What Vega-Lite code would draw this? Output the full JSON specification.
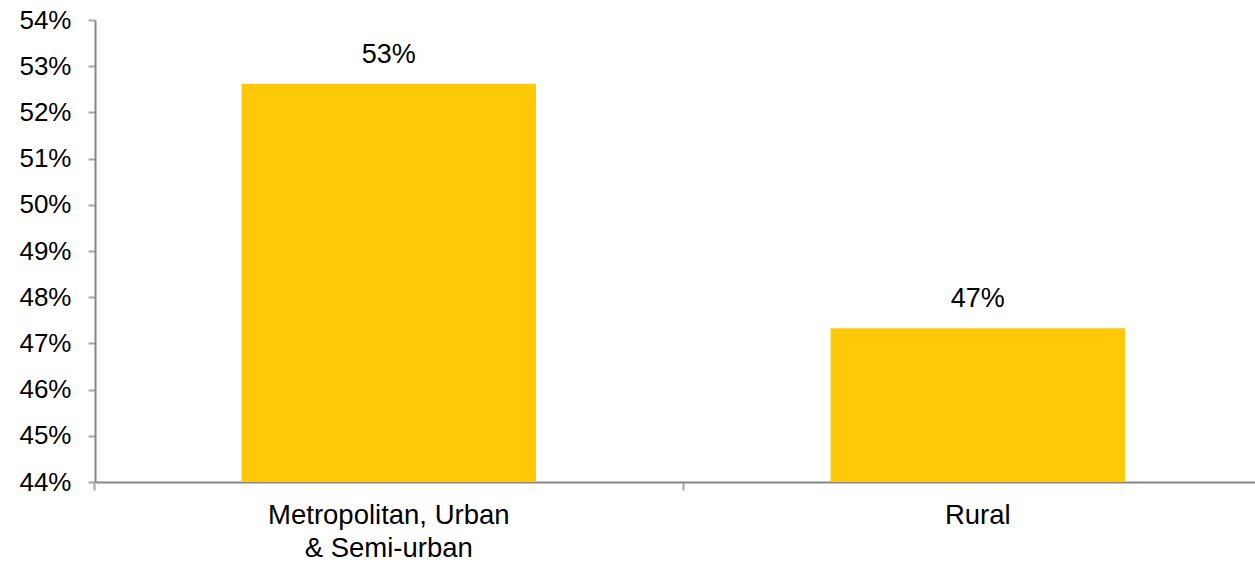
{
  "$schema": "https://vega.github.io/schema/vega-lite/v6.json",
  "width": 1160,
  "height": 462,
  "autosize": {"type": "none"},
  "padding": {"left": 95, "top": 20, "right": 0, "bottom": 80},
  "background": "white",
  "config": {
    "view": {"stroke": null},
    "font": "Liberation Sans"
  },
  "data": {
    "values": [
      {"area": "Metropolitan, Urban & Semi-urban", "share": 0.5262},
      {"area": "Rural", "share": 0.4733}
    ]
  },
  "encoding": {
    "x": {
      "field": "area",
      "type": "nominal",
      "sort": null,
      "scale": {"paddingInner": 0.5, "paddingOuter": 0.2347, "align": 0.53},
      "axis": {
        "title": null,
        "labelAngle": 0,
        "bandPosition": -0.5,
        "tickSize": 8,
        "tickColor": "#A6A6A6",
        "tickWidth": 2,
        "domainColor": "#868686",
        "domainWidth": 2,
        "labelFontSize": 27.5,
        "labelColor": "#000000",
        "labelPadding": 11,
        "labelLimit": 0,
        "labelLineHeight": 33,
        "labelExpr": "datum.value == 'Metropolitan, Urban & Semi-urban' ? ['Metropolitan, Urban', '& Semi-urban'] : datum.value"
      }
    },
    "y": {
      "field": "share",
      "type": "quantitative",
      "scale": {"domain": [0.44, 0.54], "nice": false, "zero": false},
      "axis": {
        "title": null,
        "values": [0.44, 0.45, 0.46, 0.47, 0.48, 0.49, 0.5, 0.51, 0.52, 0.53, 0.54],
        "format": ".0%",
        "grid": false,
        "tickSize": 7,
        "tickColor": "#A6A6A6",
        "tickWidth": 2,
        "domainColor": "#868686",
        "domainWidth": 2,
        "labelFontSize": 26,
        "labelColor": "#000000",
        "labelPadding": 17
      }
    }
  },
  "layer": [
    {"mark": {"type": "bar", "color": "#FFC90A", "clip": true}},
    {
      "mark": {"type": "text", "baseline": "bottom", "dy": -15, "fontSize": 27, "color": "#000000"},
      "encoding": {"text": {"field": "share", "type": "quantitative", "format": ".0%"}}
    }
  ]
}
